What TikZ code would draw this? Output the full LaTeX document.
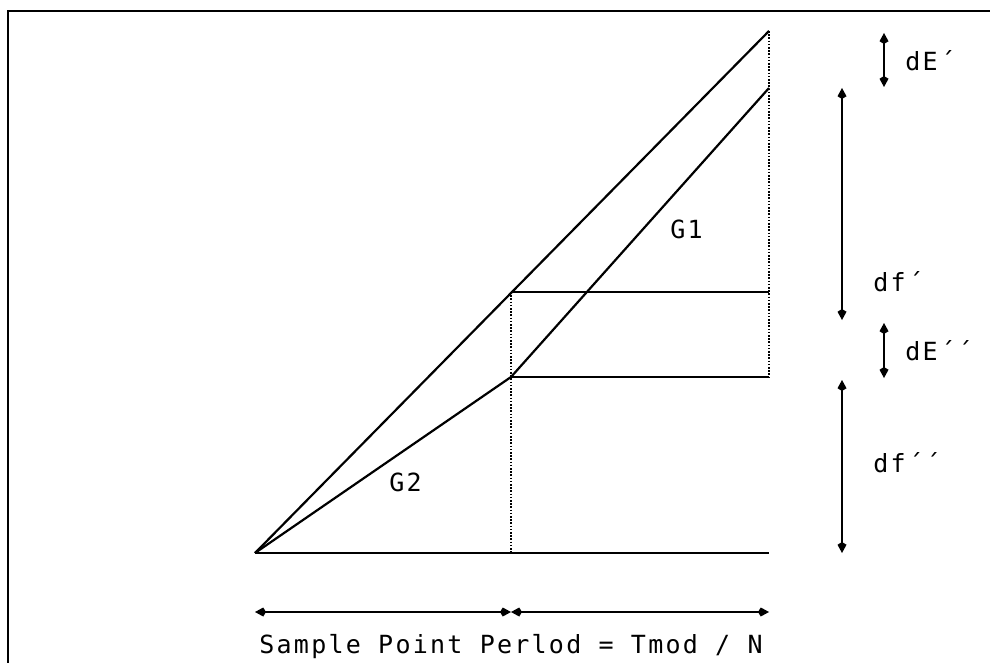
\documentclass[tikz,border=0pt]{standalone}
\usepackage{fontspec}
\newfontfamily\plotfont[LetterSpace=9]{DejaVu Sans Mono}
\usetikzlibrary{arrows.meta}
\begin{document}
\begin{tikzpicture}[x=0.5pt,y=-0.5pt,
  solidline/.style={line width=1.1pt},
  dotline/.style={line width=0.8pt,dash pattern=on 0.8pt off 0.8pt},
  dimarrow/.style={line width=1pt,{Kite[length=5.5pt,width=4.5pt]}-{Kite[length=5.5pt,width=4.5pt]}},
  lbl/.style={font=\plotfont\fontsize{12.5}{14}\selectfont,inner sep=0pt,anchor=west}]
\useasboundingbox (0,0) rectangle (990,663);
% frame
\draw[line width=1.2pt] (8,663) -- (8,11) -- (990,11);
% coordinates
\coordinate (O) at (255,553);
\coordinate (Top) at (769,31);
\coordinate (G1end) at (769,88);
\coordinate (MidU) at (511,292);
\coordinate (MidL) at (511,377);
\coordinate (MidB) at (511,553);
\coordinate (RU) at (769,292);
\coordinate (RL) at (769,377);
\coordinate (RB) at (769,553);
% main lines
\draw[solidline] (O) -- (Top);
\draw[solidline] (O) -- (MidL) -- (G1end);
\draw[solidline] (O) -- (RB);
\draw[solidline] (MidU) -- (RU);
\draw[solidline] (MidL) -- (RL);
\draw[dotline] (MidU) -- (MidB);
\draw[dotline] (Top) -- (RL);
% right dimension arrows
\coordinate (dEa) at (884,33); \coordinate (dEb) at (884,87);
\coordinate (dfa) at (842,88); \coordinate (dfb) at (842,320);
\coordinate (dEEa) at (884,323); \coordinate (dEEb) at (884,378);
\coordinate (dffa) at (842,380); \coordinate (dffb) at (842,553);
\draw[dimarrow] (dEa) -- (dEb);
\draw[dimarrow] (dfa) -- (dfb);
\draw[dimarrow] (dEEa) -- (dEEb);
\draw[dimarrow] (dffa) -- (dffb);
\node[lbl] (ldE) at (905,61) {dE´};
\node[lbl] (ldf) at (873,282) {df´};
\node[lbl] (ldEE) at (905,351) {dE´´};
\node[lbl] (ldff) at (873,463) {df´´};
\node[lbl] (lG1) at (670,229) {G1};
\node[lbl] (lG2) at (389,482) {G2};
% bottom arrows
\coordinate (BL) at (255,612); \coordinate (BM) at (511,612); \coordinate (BR) at (769,612);
\draw[dimarrow] (BL) -- (BM);
\draw[dimarrow] (BM) -- (BR);
\node[lbl,anchor=center] (cap) at (511,647) {Sample Point Perlod = Tmod / N};
\end{tikzpicture}
\end{document}
